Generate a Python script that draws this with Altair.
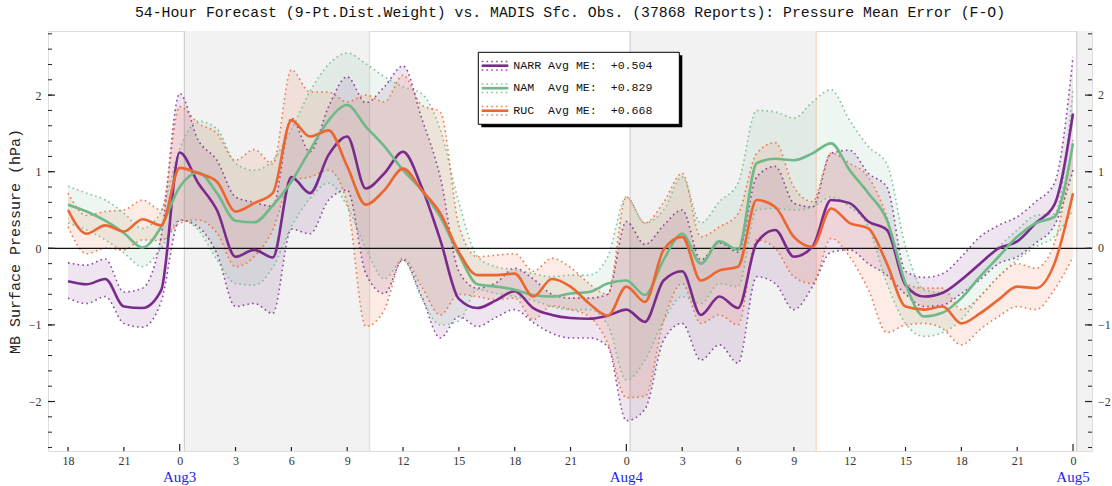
import altair as alt
import pandas as pd

# ---------------- data (hours relative to Aug3 00 UTC) ----------------
hours = list(range(-6, 49))

narr_mean = [-0.43, -0.47, -0.40, -0.76, -0.78, -0.55, 1.25, 0.85, 0.50, -0.11,
             -0.02, -0.12, 0.93, 0.72, 1.22, 1.46, 0.78, 0.98, 1.26, 0.80,
             0.11, -0.66, -0.78, -0.68, -0.56, -0.78, -0.87, -0.91, -0.92, -0.88,
             -0.80, -0.96, -0.42, -0.30, -0.87, -0.63, -0.78, 0.07, 0.24, -0.11,
             0.02, 0.63, 0.59, 0.35, 0.24, -0.48, -0.63, -0.58, -0.41, -0.20,
             0.00, 0.09, 0.33, 0.57, 1.76]
narr_hi = [-0.19, -0.22, -0.14, -0.57, -0.52, 0.15, 2.02, 1.41, 1.15, 0.67,
           0.60, 0.55, 1.70, 1.26, 1.85, 2.24, 1.90, 2.11, 2.38, 1.70,
           0.93, -0.30, -0.52, -0.45, -0.26, -0.40, -0.60, -0.65, -0.65, -0.60,
           0.35, 0.05, 0.30, 0.50, -0.15, 0.07, -0.05, 0.93, 1.07, 0.59,
           0.54, 1.24, 1.28, 0.98, 0.80, -0.30, -0.38, -0.33, -0.11, 0.15,
           0.30, 0.41, 0.61, 0.85, 2.50]
narr_lo = [-0.65, -0.72, -0.63, -0.98, -1.03, -0.70, 0.37, 0.28, -0.07, -0.76,
           -0.72, -0.85, 0.25, 0.19, 0.63, 0.76, -0.33, -0.59, -0.15, -0.63,
           -1.17, -0.89, -1.02, -0.90, -0.80, -0.97, -1.11, -1.17, -1.17, -1.28,
           -2.25, -2.10, -1.20, -0.98, -1.46, -1.26, -1.50, -0.37, -0.46, -0.80,
           -0.50, -0.05, -0.02, -0.20, -0.35, -0.60, -0.76, -0.74, -0.59, -0.41,
           -0.20, -0.11, 0.07, 0.30, 1.02]

nam_mean = [0.57, 0.48, 0.36, 0.20, 0.01, 0.28, 0.80, 0.99, 0.72, 0.36,
            0.34, 0.56, 0.87, 1.28, 1.67, 1.87, 1.59, 1.33, 1.02, 0.76,
            0.41, -0.08, -0.47, -0.50, -0.54, -0.61, -0.63, -0.59, -0.57, -0.46,
            -0.42, -0.61, -0.15, 0.19, -0.20, 0.09, -0.02, 1.11, 1.17, 1.15,
            1.24, 1.37, 1.02, 0.72, 0.37, -0.46, -0.89, -0.84, -0.65, -0.37,
            -0.11, 0.15, 0.33, 0.41, 1.37]
nam_hi = [0.81, 0.72, 0.63, 0.46, 0.26, 0.48, 1.30, 1.66, 1.56, 1.11,
          1.02, 1.15, 1.55, 2.05, 2.40, 2.55, 2.41, 2.24, 2.11, 2.02,
          1.55, 0.60, -0.11, -0.24, -0.28, -0.33, -0.37, -0.35, -0.35, -0.11,
          0.67, 0.33, 0.50, 0.93, 0.33, 0.61, 0.85, 1.80, 1.78, 1.70,
          1.91, 2.07, 1.67, 1.33, 1.10, 0.02, -0.54, -0.58, -0.40, -0.20,
          0.02, 0.24, 0.43, 0.45, 2.06]
nam_lo = [0.33, 0.24, 0.11, -0.06, -0.24, 0.00, 0.37, 0.24, -0.15, -0.46,
          -0.48, -0.25, 0.28, 0.65, 0.85, 0.55, 0.00, -0.40, -0.15, -0.65,
          -1.00, -0.95, -0.54, -0.59, -0.63, -0.68, -0.76, -0.80, -0.80, -1.00,
          -1.72, -1.46, -0.95, -0.63, -0.72, -0.46, -0.50, 0.50, 0.52, 0.50,
          0.54, 0.67, 0.54, 0.28, -0.46, -0.98, -1.15, -1.10, -0.93, -0.63,
          -0.37, -0.15, 0.02, 0.15, 0.50]

ruc_mean = [0.50, 0.19, 0.30, 0.22, 0.38, 0.30, 1.05, 0.98, 0.87, 0.48,
            0.59, 0.72, 1.67, 1.46, 1.54, 1.07, 0.57, 0.76, 1.04, 0.76,
            0.46, -0.05, -0.35, -0.35, -0.33, -0.63, -0.40, -0.50, -0.72, -0.88,
            -0.50, -0.70, -0.02, 0.15, -0.42, -0.29, -0.24, 0.63, 0.54, 0.15,
            0.02, 0.52, 0.33, 0.26, -0.20, -0.76, -0.80, -0.76, -0.98, -0.85,
            -0.67, -0.50, -0.52, -0.20, 0.72]
ruc_hi = [0.72, 0.43, 0.48, 0.50, 0.63, 0.50, 1.85, 1.63, 1.50, 1.15,
          1.29, 1.10, 2.33, 2.04, 2.04, 1.91, 2.00, 1.91, 2.26, 1.87,
          1.78, 0.30, -0.11, -0.09, -0.07, -0.30, -0.13, -0.25, -0.46, -0.60,
          0.67, 0.33, 0.60, 0.98, 0.15, 0.28, 0.45, 1.24, 1.38, 0.80,
          0.61, 1.24, 1.11, 0.93, 0.41, -0.46, -0.52, -0.52, -0.80, -0.63,
          -0.37, -0.20, -0.26, 0.07, 1.41]
ruc_lo = [0.28, -0.07, 0.00, -0.02, 0.11, 0.10, 0.33, 0.37, 0.20, -0.24,
          -0.11, 0.24, 0.89, 0.93, 1.02, 0.59, -1.02, -0.80, -0.13, -0.50,
          -0.87, -0.60, -0.63, -0.67, -0.65, -0.93, -0.75, -0.80, -0.89, -1.24,
          -1.95, -1.93, -0.95, -0.46, -0.98, -0.87, -1.00, 0.11, 0.00, -0.37,
          -0.46, 0.13, -0.11, -0.54, -1.10, -1.00, -0.98, -1.05, -1.26, -1.06,
          -0.89, -0.76, -0.80, -0.54, -0.11]

series_names = ["NARR", "NAM", "RUC"]
series_avg = ["+0.504", "+0.829", "+0.668"]
series_colors = ["#7a2a8c", "#6fb888", "#ec6631"]

night_start = [0.25, 24.2, 48.2]
night_end = [10.2, 34.2, 49.02]

x_tick_hours = list(range(-6, 49, 3))
day_hours = [0, 24, 48]
day_labels = ["Aug3", "Aug4", "Aug5"]
y_major = [-2, -1, 0, 1, 2]
y_minor = [round(-2.6 + 0.2 * i, 1) for i in range(28)]

title = ("54-Hour Forecast (9-Pt.Dist.Weight) vs. MADIS Sfc. Obs. "
         "(37868 Reports): Pressure Mean Error (F-O)")

# ---------------- tables ----------------
rows = []
for name, m, lo, hi in [("NARR", narr_mean, narr_lo, narr_hi),
                        ("NAM", nam_mean, nam_lo, nam_hi),
                        ("RUC", ruc_mean, ruc_lo, ruc_hi)]:
    for h, a, b, c in zip(hours, m, lo, hi):
        rows.append({"series": name, "hour": h, "mean": a, "lo": b, "hi": c})
df = pd.DataFrame(rows)
shade_df = pd.DataFrame({"start": night_start, "end": night_end})
xt_df = pd.DataFrame({"hour": x_tick_hours,
                      "major": [h % 24 == 0 for h in x_tick_hours]})
day_df = pd.DataFrame({"hour": day_hours, "label": day_labels})
ymaj_df = pd.DataFrame({"v": y_major})
ymin_df = pd.DataFrame({"v": y_minor})
one = pd.DataFrame({"a": [0]})

W, H = 1044, 420
xs = alt.Scale(domain=[-7.077, 49.02], nice=False, zero=False)
ys = alt.Scale(domain=[-2.646, 2.837], nice=False, zero=False)
cs = alt.Scale(domain=series_names, range=series_colors)

x_axis = alt.Axis(values=x_tick_hours, ticks=False, domain=False, grid=False,
                  labelExpr="((datum.value % 24) + 24) % 24",
                  labelFont="Liberation Serif", labelFontSize=12,
                  labelColor="#333", labelPadding=4, title=None)
y_axis = alt.Axis(values=y_major, ticks=False, domain=False, grid=False,
                  labelFont="Liberation Serif", labelFontSize=12,
                  labelColor="#333", labelPadding=7,
                  title="MB Surface Pressure (hPa)",
                  titleFont="Liberation Mono", titleFontSize=15,
                  titleFontWeight="normal", titleColor="#222",
                  titleX=-34, titleY=H / 2, titleAngle=-90,
                  titleAlign="center", titleBaseline="middle")

C = alt.Color("series:N", scale=cs, legend=None)
Xn = alt.X("hour:Q", scale=xs, axis=x_axis)

base = alt.Chart(df)

shade = alt.Chart(shade_df).mark_rect(color="#f2f2f2").encode(
    x=alt.X("start:Q", scale=xs, axis=x_axis), x2="end:Q",
    y=alt.value(0), y2=alt.value(H))
shade_l = alt.Chart(shade_df).mark_rule(color="#cfcfcf", strokeWidth=1.2).encode(
    x=alt.X("start:Q", scale=xs, axis=x_axis))
shade_r = alt.Chart(shade_df[shade_df["end"] < 49]).mark_rule(
    color="#fbd6bb", strokeWidth=1.2).encode(x=alt.X("end:Q", scale=xs, axis=x_axis))

band = base.mark_area(opacity=0.12, interpolate="monotone").encode(
    x=Xn, y=alt.Y("lo:Q", scale=ys, axis=y_axis), y2="hi:Q", color=C)
dot_lo = base.mark_line(strokeDash=[1.6, 3.2], strokeWidth=1.6, opacity=0.85,
                        interpolate="monotone").encode(
    x=Xn, y=alt.Y("lo:Q", scale=ys, axis=y_axis), color=C, detail="series:N")
dot_hi = base.mark_line(strokeDash=[1.6, 3.2], strokeWidth=1.6, opacity=0.85,
                        interpolate="monotone").encode(
    x=Xn, y=alt.Y("hi:Q", scale=ys, axis=y_axis), color=C, detail="series:N")

zero = alt.Chart(one).mark_rule(color="#111", strokeWidth=1.2).encode(
    y=alt.datum(0, scale=ys, axis=y_axis))

mean = base.mark_line(strokeWidth=2.6, interpolate="monotone").encode(
    x=Xn, y=alt.Y("mean:Q", scale=ys, axis=y_axis),
    color=C, detail="series:N")

# inward tick marks
xt_major = alt.Chart(xt_df[xt_df["major"]]).mark_rule(color="#222", strokeWidth=1.2).encode(
    x=alt.X("hour:Q", scale=xs, axis=x_axis), y=alt.value(H - 7), y2=alt.value(H))
xt_minor = alt.Chart(xt_df[~xt_df["major"]]).mark_rule(color="#222", strokeWidth=1.2).encode(
    x=alt.X("hour:Q", scale=xs, axis=x_axis), y=alt.value(H - 4), y2=alt.value(H))
yl_maj = alt.Chart(ymaj_df).mark_rule(color="#222", strokeWidth=1.2).encode(
    y=alt.Y("v:Q", scale=ys, axis=y_axis), x=alt.value(0), x2=alt.value(7))
yl_min = alt.Chart(ymin_df).mark_rule(color="#222", strokeWidth=1).encode(
    y=alt.Y("v:Q", scale=ys, axis=y_axis), x=alt.value(0), x2=alt.value(4))
yr_maj = alt.Chart(ymaj_df).mark_rule(color="#222", strokeWidth=1.2).encode(
    y=alt.Y("v:Q", scale=ys, axis=y_axis), x=alt.value(W - 7), x2=alt.value(W))
yr_min = alt.Chart(ymin_df).mark_rule(color="#222", strokeWidth=1).encode(
    y=alt.Y("v:Q", scale=ys, axis=y_axis), x=alt.value(W - 4), x2=alt.value(W))
yr_lab = alt.Chart(ymaj_df).mark_text(
    align="left", baseline="middle", font="Liberation Serif", fontSize=12,
    color="#333").encode(
    y=alt.Y("v:Q", scale=ys, axis=y_axis), x=alt.value(W + 6),
    text=alt.Text("v:Q", format="d"))

days = alt.Chart(day_df).mark_text(
    baseline="middle", align="center", font="Liberation Serif", fontSize=15,
    color="#2424f0").encode(
    x=alt.X("hour:Q", scale=xs, axis=x_axis), y=alt.value(H + 26), text="label:N")

# legend box
NB = "\u00a0"
lx0, lx1, ly0, ly1 = 430.3, 631.3, 21.3, 93.3
legend_layers = [
    alt.Chart(one).mark_rect(color="#000").encode(
        x=alt.value(lx0 + 3), x2=alt.value(lx1 + 3),
        y=alt.value(ly0 + 3), y2=alt.value(ly1 + 3)),
    alt.Chart(one).mark_rect(fill="#ffffff", stroke="#000", strokeWidth=1).encode(
        x=alt.value(lx0), x2=alt.value(lx1), y=alt.value(ly0), y2=alt.value(ly1)),
]
for i, (nm, av, col) in enumerate(zip(series_names, series_avg, series_colors)):
    yr = 34.7 + 22.5 * i
    legend_layers.append(alt.Chart(one).mark_rule(color=col, strokeWidth=2.6).encode(
        x=alt.value(433.7), x2=alt.value(460.3), y=alt.value(yr)))
    for dy in (-4.3, 4.3):
        legend_layers.append(alt.Chart(one).mark_rule(
            color=col, strokeWidth=1.5, strokeDash=[1.6, 3.2], opacity=0.85).encode(
            x=alt.value(433.7), x2=alt.value(460.3), y=alt.value(yr + dy)))
    label = (nm + " " * (5 - len(nm)) + "Avg ME:  " + av).replace(" ", NB)
    legend_layers.append(alt.Chart(one).mark_text(
        align="left", baseline="middle", font="Liberation Mono", fontSize=11.6,
        color="#111").encode(x=alt.value(465.3), y=alt.value(yr),
                             text=alt.value(label)))

chart = alt.layer(
    shade, shade_l, shade_r, band, dot_lo, dot_hi, zero, mean,
    xt_major, xt_minor, yl_maj, yl_min, yr_maj, yr_min, yr_lab, days,
    *legend_layers
).properties(
    width=W, height=H,
    title=alt.TitleParams(title, font="Liberation Mono", fontSize=14.8,
                          fontWeight="normal", color="#111", anchor="middle",
                          offset=11),
    autosize=alt.AutoSizeParams(type="none"),
    padding={"left": 48, "top": 31, "right": 20, "bottom": 35},
).configure_view(stroke="#333", strokeWidth=1.2).configure(background="white")

chart.save("out.html", embed_options={"renderer": "svg", "actions": False})
